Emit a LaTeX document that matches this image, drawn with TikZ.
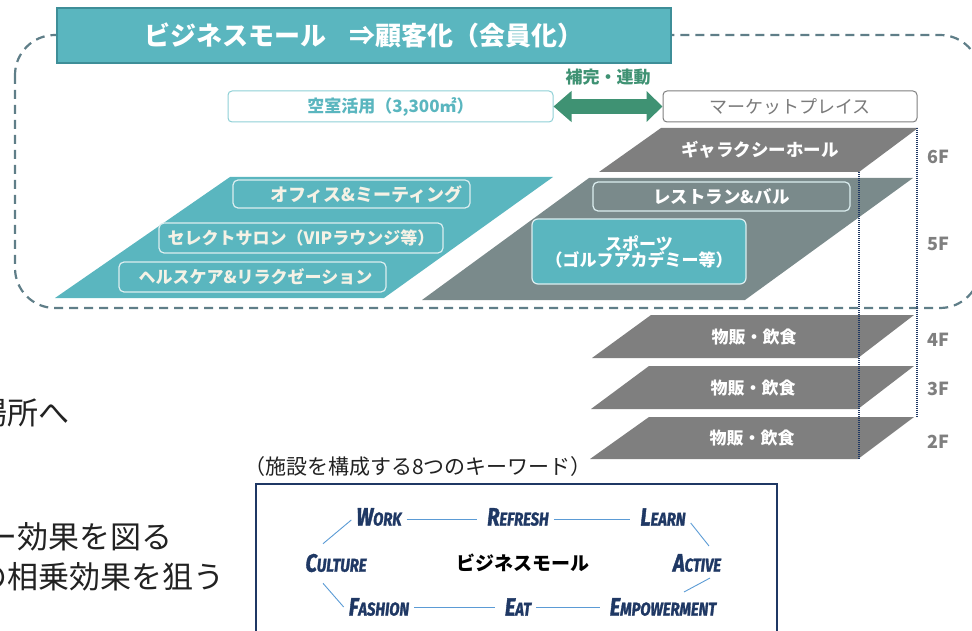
\documentclass[tikz,border=0pt]{standalone}
\usepackage{fontspec}
\setmainfont{Noto Sans CJK JP}
\newfontfamily\kwfont[FakeStretch=0.8, BoldItalicFeatures={FakeBold=1.5}]{Fira Sans}
\usetikzlibrary{calc,arrows.meta}
\definecolor{tealA}{HTML}{5AB6BF}
\definecolor{tealB}{HTML}{3E8E98}
\definecolor{tealL}{HTML}{8FD0D6}
\definecolor{dashc}{HTML}{5F7E88}
\definecolor{greenA}{HTML}{3F9273}
\definecolor{grayA}{HTML}{7F7F7F}
\definecolor{grayB}{HTML}{7A8A8B}
\definecolor{grayT}{HTML}{7A7A7A}
\definecolor{navy}{HTML}{1F3864}
\definecolor{kwblue}{HTML}{5B9BD5}
\definecolor{cream}{HTML}{F5F2E6}
\definecolor{lbord}{HTML}{DCEEF0}
\definecolor{txt}{HTML}{222222}
\newcommand\fs[1]{\fontsize{#1}{#1}\selectfont}
\newcommand\kwd[2]{{\kwfont\bfseries\itshape\fs{25}#1\fs{18.5}#2}}
\tikzset{
  titlebox/.style={draw=tealB, line width=1.5pt, fill=tealA, text=white, font=\bfseries\fs{26}, inner sep=0pt},
  tbox/.style={draw=lbord, line width=1.2pt, fill=tealA, rounded corners=5pt, text=cream, font=\bfseries\fs{17}, inner sep=0pt},
  gbox/.style={draw=lbord, line width=1.2pt, fill=grayB, rounded corners=5pt, text=white, font=\bfseries\fs{17}, inner sep=0pt},
  planetext/.style={text=white, font=\bfseries\fs{17}, inner sep=0pt},
  floorlab/.style={text=grayA, font=\bfseries\fs{18}, inner sep=0pt},
  kw/.style={text=navy, inner sep=3pt},
  kwline/.style={draw=kwblue, line width=0.9pt},
  hline/.style={kwline, shorten <=2pt, shorten >=7pt},
  dotline/.style={draw=navy, line width=1.1pt, dash pattern=on 1.2pt off 0.8pt},
  bigtext/.style={text=txt, font=\fs{31}, inner sep=0pt},
}
\begin{document}
\begin{tikzpicture}[x=1pt,y=-1pt]
\useasboundingbox (0,0) rectangle (972,631);
\clip (0,0) rectangle (972,631);
% dashed frame
\draw[dashc, line width=2.2pt, dash pattern=on 9pt off 6pt, rounded corners=40pt] (15,35) rectangle (980,308);
% title
\node[titlebox, minimum width=614pt, minimum height=55pt] (title) at (364,35.5) {ビジネスモール\hspace{0.9em}⇒顧客化（会員化）};
% top boxes and arrow
\node[draw=tealL, line width=1pt, fill=white, rounded corners=4pt, minimum width=325pt, minimum height=31pt, inner sep=0pt, text=tealA, font=\bfseries\fs{17}] (vacant) at (390.5,106.5) {空室活用（3,300㎡）};
\node[draw=grayA, line width=1pt, fill=white, rounded corners=4pt, minimum width=254pt, minimum height=31pt, inner sep=0pt, text=grayT, font=\fs{18}] (market) at (790,106.5) {マーケットプレイス};
\draw[greenA, line width=15pt, {Triangle[length=18pt,width=30pt]}-{Triangle[length=16pt,width=30pt]}] (vacant.east) -- (market.west);
\node[text=greenA, font=\bfseries\fs{17}, inner sep=0pt] (hokan) at (608,77) {補完・連動};
% 6F
\fill[grayA] (661,128) -- (918,128) -- (859,172) -- (599,172) -- cycle;
\node[planetext, font=\bfseries\fs{17.5}] (f6) at (760,150) {ギャラクシーホール};
% 5F
\fill[tealA] (230,177) -- (553,177) -- (384,298) -- (55,298) -- cycle;
\fill[grayB] (589,178) -- (913,178) -- (745,300) -- (422,300) -- cycle;
\node[tbox, minimum width=237pt, minimum height=28pt, font=\bfseries\fs{18}, text depth=0pt] (office) at (351.5,194) {\hspace{30pt}オフィス\&ミーティング};
\node[tbox, minimum width=284pt, minimum height=30pt] (salon) at (301,238) {セレクトサロン（VIPラウンジ等）};
\node[tbox, minimum width=267pt, minimum height=30pt] (health) at (252.5,277) {\hspace{6pt}ヘルスケア\&リラクゼーション};
\node[gbox, minimum width=257pt, minimum height=29pt, font=\bfseries\fs{17.5}] (resto) at (721.5,196.5) {レストラン\&バル};
\node[tbox, rounded corners=6pt, text=white, minimum width=214pt, minimum height=65pt, align=center, font=\bfseries\fs{17}] (sports) at (639,251.5) {スポーツ\\[-1pt]（ゴルフアカデミー等）};
% 4F 3F 2F
\fill[grayA] (651,315) -- (914,315) -- (858,358) -- (592,358) -- cycle;
\fill[grayA] (649,366) -- (914,366) -- (858,409) -- (591,409) -- cycle;
\fill[grayA] (649,417) -- (914,417) -- (858,459) -- (590,459) -- cycle;
\node[planetext] (f4) at (754,337) {物販・飲食};
\node[planetext] (f3) at (753,388) {物販・飲食};
\node[planetext] (f2) at (752,438) {物販・飲食};
% dotted verticals
\coordinate (d1a) at (859,172); \coordinate (d1b) at (859,459);
\coordinate (d2a) at (917,128); \coordinate (d2b) at (917,417);
\draw[dotline] (d1a) -- (d1b);
\draw[dotline] (d2a) -- (d2b);
% floor labels
\node[floorlab] (l6) at (938,157) {6F};
\node[floorlab] (l5) at (938,244) {5F};
\node[floorlab] (l4) at (938,340) {4F};
\node[floorlab] (l3) at (938,389) {3F};
\node[floorlab] (l2) at (938,442) {2F};
% left text fragments
\node[bigtext, anchor=east] (frag1) at (70,413) {場所へ};
\node[bigtext, anchor=east] (frag2) at (173,537) {ー効果を図る};
\node[bigtext, anchor=east] (frag3) at (225,577) {の相乗効果を狙う};
% keywords
\node[text=txt, font=\fs{21}, inner sep=0pt] (caption) at (418,467) {（施設を構成する8つのキーワード）};
\draw[navy, line width=1.5pt] (256,484) rectangle (777,660);
\node[kw] (work) at (379,517) {\kwd{W}{ORK}};
\node[kw] (refresh) at (518,517) {\kwd{R}{EFRESH}};
\node[kw] (learn) at (663,517) {\kwd{L}{EARN}};
\node[kw] (culture) at (336,563) {\kwd{C}{ULTURE}};
\node[text=black, font=\bfseries\fs{19}, inner sep=0pt] (center) at (523,563) {ビジネスモール};
\node[kw] (active) at (697,563) {\kwd{A}{CTIVE}};
\node[kw] (fashion) at (379,607) {\kwd{F}{ASHION}};
\node[kw] (eat) at (518,607) {\kwd{E}{AT}};
\node[kw] (empower) at (663,607) {\kwd{E}{MPOWERMENT}};
\draw[hline] ([yshift=-2pt]work.east) -- ([yshift=-2pt]refresh.west);
\draw[hline] ([yshift=-2pt]refresh.east) -- ([yshift=-2pt]learn.west);
\draw[hline] (fashion.east) -- (eat.west);
\draw[hline] (eat.east) -- (empower.west);
\draw[kwline] ([shift={(-13,-7)}]culture.north) -- ([shift={(-2,3)}]work.west);
\draw[kwline] ([shift={(-13,8)}]culture.south) -- ([shift={(-2,0)}]fashion.west);
\draw[kwline] ([shift={(2,6)}]learn.east) -- ([shift={(12,-5)}]active.north);
\draw[kwline] ([shift={(13,3)}]active.south) -- ([shift={(21,-3)}]empower.north);
\end{tikzpicture}
\end{document}
